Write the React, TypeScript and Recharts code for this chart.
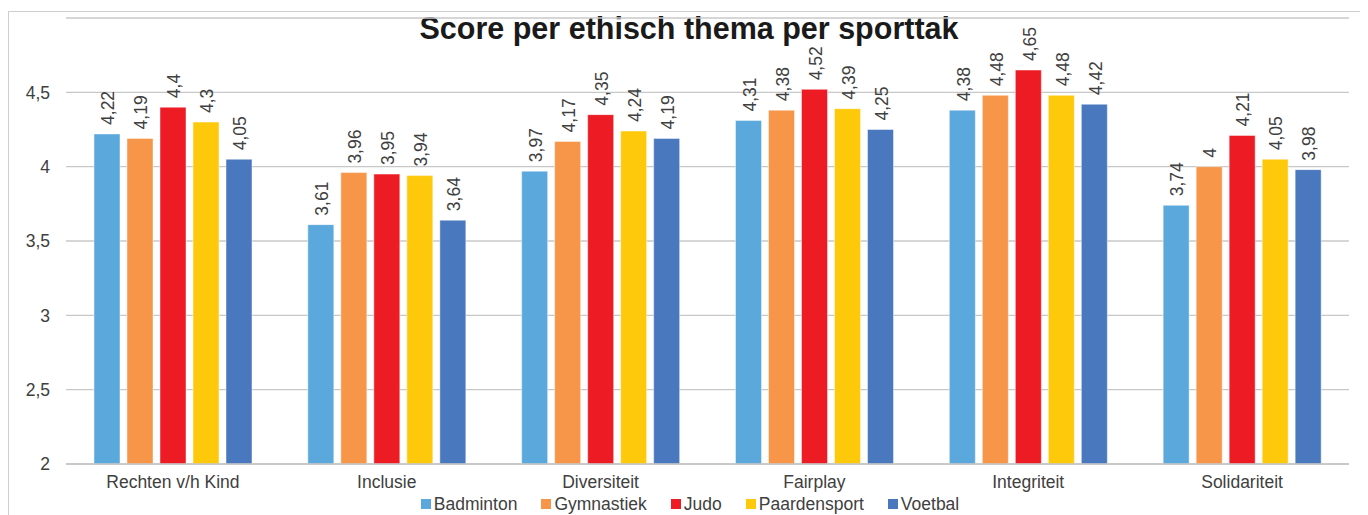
import React from "react";
import { BarChart, Bar, XAxis, YAxis, CartesianGrid, LabelList } from "recharts";

const categories = ["Rechten v/h Kind", "Inclusie", "Diversiteit", "Fairplay", "Integriteit", "Solidariteit"];
const badminton = [4.22, 3.61, 3.97, 4.31, 4.38, 3.74];
const gymnastiek = [4.19, 3.96, 4.17, 4.38, 4.48, 4.0];
const judo = [4.4, 3.95, 4.35, 4.52, 4.65, 4.21];
const paardensport = [4.3, 3.94, 4.24, 4.39, 4.48, 4.05];
const voetbal = [4.05, 3.64, 4.19, 4.25, 4.42, 3.98];
const yTicks = [2, 2.5, 3, 3.5, 4, 4.5];

const series = [
  { key: "Badminton", values: badminton, color: "#5BA8DC" },
  { key: "Gymnastiek", values: gymnastiek, color: "#F79548" },
  { key: "Judo", values: judo, color: "#ED1C24" },
  { key: "Paardensport", values: paardensport, color: "#FFC90B" },
  { key: "Voetbal", values: voetbal, color: "#4A78BE" },
];

const data = categories.map((c, i) => {
  const row: Record<string, any> = { name: c };
  series.forEach((s) => (row[s.key] = s.values[i]));
  return row;
});

const FONT = '"Liberation Sans", Arial, sans-serif';
const TEXT = "#404040";

const fmt = (v: any) => String(v).replace(".", ",");

const ValueLabel = (props: any) => {
  const { x, y, width, value } = props;
  const cx = x + width / 2 + 1;
  const cy = y - 9;
  return (
    <text
      x={cx}
      y={cy}
      transform={`rotate(-90, ${cx}, ${cy})`}
      textAnchor="start"
      dy="0.36em"
      fontSize={17.5}
      fontFamily={FONT}
      fill={TEXT}
    >
      {fmt(value)}
    </text>
  );
};

export default function App() {
  return (
    <div
      style={{
        position: "relative",
        marginTop: 3,
        width: 1356,
        height: 520,
        border: "1px solid #cfcfcf",
        fontFamily: FONT,
        background: "#fff",
      }}
    >
      <div
        style={{
          position: "absolute",
          left: 2,
          top: 1,
          width: 1356,
          textAlign: "center",
          fontSize: 30.5,
          lineHeight: "30px",
          fontWeight: "bold",
          color: "#1a1a1a",
          fontFamily: FONT,
        }}
      >
        Score per ethisch thema per sporttak
      </div>
      <BarChart
        width={1356}
        height={500}
        data={data}
        margin={{ top: 6, right: 16, bottom: 0, left: 0 }}
        barSize={26}
        barGap={7}
      >
        <CartesianGrid vertical={false} stroke="#c8c8c8" strokeWidth={1.3} />
        <XAxis
          dataKey="name"
          height={48}
          tickLine={false}
          tickSize={0}
          tickMargin={11.5}
          axisLine={{ stroke: "#c4c4c4", strokeWidth: 1.3 }}
          tick={{ fontSize: 17.5, fill: TEXT, fontFamily: FONT }}
          interval={0}
        />
        <YAxis
          width={57}
          domain={[2, 5]}
          ticks={yTicks}
          tickFormatter={fmt}
          tickLine={false}
          tickSize={0}
          tickMargin={16}
          axisLine={false}
          allowDataOverflow
          tick={{ fontSize: 17.5, fill: TEXT, fontFamily: FONT }}
        />
        {series.map((s) => (
          <Bar
            key={s.key}
            dataKey={s.key}
            fill={s.color}
            stroke="rgba(255,255,255,0.45)"
            strokeWidth={1}
            isAnimationActive={false}
          >
            <LabelList dataKey={s.key} content={ValueLabel} />
          </Bar>
        ))}
      </BarChart>
      <div
        style={{
          position: "absolute",
          left: 3,
          top: 482,
          width: 1356,
          display: "flex",
          justifyContent: "center",
          alignItems: "center",
          fontSize: 17.5,
          lineHeight: "20px",
          color: TEXT,
          fontFamily: FONT,
        }}
      >
        {series.map((s, i) => (
          <div
            key={s.key}
            style={{ display: "flex", alignItems: "center", marginLeft: i === 0 ? 0 : 24 }}
          >
            <div style={{ width: 10, height: 10, background: s.color, marginRight: 3 }} />
            <span>{s.key}</span>
          </div>
        ))}
      </div>
    </div>
  );
}
